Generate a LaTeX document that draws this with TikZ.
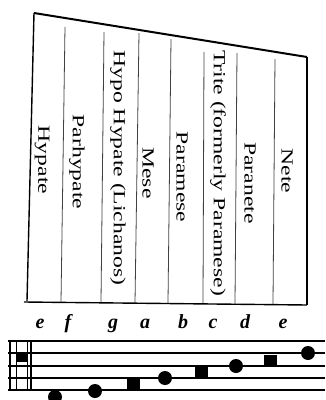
\documentclass[tikz,border=0pt]{standalone}
\usepackage{fontspec}
\setmainfont{Liberation Serif}
\usepackage{graphicx}

\newcommand{\widetext}[1]{\scalebox{1.39}[1]{#1}}

\tikzset{
  frame/.style={line width=1.4pt},
  string/.style={line width=0.8pt, black!75},
  stringname/.style={rotate=-90, inner sep=0pt, font=\fontsize{17}{17}\selectfont},
  pitch/.style={anchor=base, inner sep=0pt, font=\fontsize{20}{20}\selectfont\bfseries\itshape},
  staffline/.style={line width=2pt},
}

\begin{document}
\begin{tikzpicture}[x=1pt, y=-1pt]
			\useasboundingbox (0,0) rectangle (325,400);

			% Frame
			\draw[frame, line width=2pt] (34,13) -- (307,57);
			\draw[frame] (34,13) -- (27,301);
			\draw[frame] (307,57) -- (307,305);
			\draw[frame] (24,302) -- (307,305);

			% Strings
			\draw[string] (65,27) -- (61,302);
			\draw[string] (104,32) -- (101,302);
			\draw[string] (139,33) -- (135,303);
			\draw[string] (171,39) -- (168,303);
			\draw[string] (204,52) -- (203,303);
			\draw[string] (237,53) -- (235,304);
			\draw[string] (275,59) -- (273,304);

			% Names
			\node[stringname] (hypate) at (42,160) {\widetext{Hypate}};
			\node[stringname] (parhypate) at (77,162) {\widetext{Parhypate}};
			\node[stringname] (lichanos) at (118,168) {\widetext{Hypo Hypate (Lichanos)}};
			\node[stringname] (mese) at (148,173) {\widetext{Mese}};
			\node[stringname] (paramese) at (182,177) {\widetext{Paramese}};
			\node[stringname] (trite) at (218,173) {\widetext{Trite (formerly Paramese)}};
			\node[stringname] (paranete) at (250,183) {\widetext{Paranete}};
			\node[stringname] (nete) at (287,171) {\widetext{Nete}};

			% Pitches
			\node[pitch] (elow) at (40,328) {e};
			\node[pitch] (f) at (68,328) {f};
			\node[pitch] (g) at (113,328) {g};
			\node[pitch] (a) at (145,328) {a};
			\node[pitch] (b) at (183,328) {b};
			\node[pitch] (c) at (213,328) {c};
			\node[pitch] (d) at (245,328) {d};
			\node[pitch] (ehigh) at (283,328) {e};

			% Staff
			\foreach \y in {341,353.25,365.5,377.75,390}
				\draw[staffline] (8,\y) -- (325,\y);
			\draw[line width=2.6pt] (10,340) -- (10,391);
			\draw[line width=1pt] (16,341) -- (16,390);
			\draw[line width=1pt] (27,341) -- (27,390);
			\draw[line width=2.6pt] (31,340) -- (31,391);
			\fill (16,354) rectangle (27,362);

			% Notes
			\fill (55,397) circle (7);
			\fill (95,391) circle (7);
			\fill (126.5,378.5) rectangle (139.5,389.5);
			\fill (165,378) circle (7);
			\fill (194.5,366.5) rectangle (207.5,377.5);
			\fill (236,366) circle (7);
			\fill (263.5,354.5) rectangle (276.5,365.5);
			\fill (308,353) circle (7);
		\end{tikzpicture}
\end{document}
